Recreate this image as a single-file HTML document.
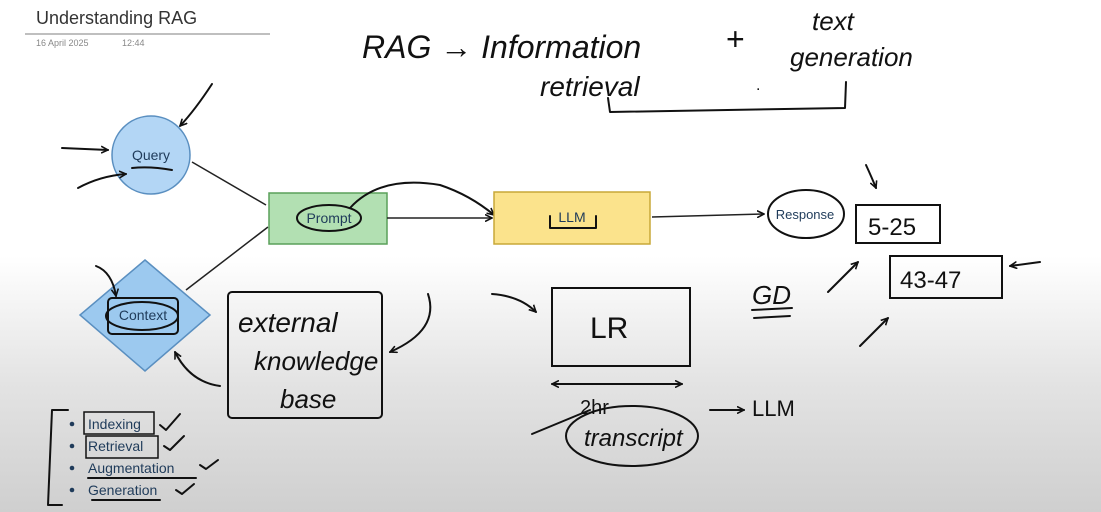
<!DOCTYPE html>
<html><head><meta charset="utf-8"><style>
html,body{margin:0;padding:0;width:1101px;height:512px;overflow:hidden;background:#fff}
svg{display:block}
.h{font-family:"Liberation Sans",sans-serif;fill:#111}
.p{fill:none;stroke:#111;stroke-width:2;stroke-linecap:round;stroke-linejoin:round}
</style></head><body>
<svg width="1101" height="512" viewBox="0 0 1101 512">
<defs>
<linearGradient id="bg" x1="0" y1="0" x2="0" y2="1">
<stop offset="0" stop-color="#fff"/><stop offset="0.5" stop-color="#fff"/><stop offset="0.75" stop-color="#e3e3e3"/><stop offset="1" stop-color="#cfcfcf"/>
</linearGradient>
<marker id="a" markerWidth="8" markerHeight="8" refX="7" refY="4" orient="auto-start-reverse" markerUnits="userSpaceOnUse"><path d="M0,0.5 L7,4 L0,7.5" fill="none" stroke="#111" stroke-width="1.6"/></marker>
</defs>
<rect width="1101" height="512" fill="url(#bg)"/>
<text x="36" y="24" font-family="Liberation Sans" font-size="18" fill="#333">Understanding RAG</text>
<line x1="25" y1="34" x2="270" y2="34" stroke="#aaa" stroke-width="1.5"/>
<text x="36" y="46" font-family="Liberation Sans" font-size="9" fill="#888">16 April 2025</text>
<text x="122" y="46" font-family="Liberation Sans" font-size="9" fill="#888">12:44</text>

<text class="h" x="362" y="58" font-size="32" font-style="italic">RAG → Information</text>
<text class="h" x="540" y="96" font-size="28" font-style="italic">retrieval</text>
<text class="h" x="726" y="50" font-size="32">+</text>
<text class="h" x="812" y="30" font-size="26" font-style="italic">text</text>
<text class="h" x="790" y="66" font-size="26" font-style="italic">generation</text>
<text class="h" x="756" y="90" font-size="16">.</text>
<path class="p" d="M608 98 L610 112 L845 108 L846 82"/>

<circle cx="151" cy="155" r="39" fill="#b3d6f5" stroke="#5a8fc0" stroke-width="1.5"/>
<text x="151" y="160" text-anchor="middle" font-family="Liberation Sans" font-size="14" fill="#1f3b5a">Query</text>
<path class="p" d="M132 168 Q150 166 172 170"/>
<path class="p" d="M62 148 L108 150" marker-end="url(#a)"/>
<path class="p" d="M78 188 Q100 176 126 174" marker-end="url(#a)"/>
<path class="p" d="M212 84 Q195 110 180 126" marker-end="url(#a)"/>
<line x1="192" y1="162" x2="266" y2="205" stroke="#222" stroke-width="1.5"/>

<polygon points="145,260 210,315 145,371 80,315" fill="#9cc9ef" stroke="#5a8fc0" stroke-width="1.5"/>
<rect x="108" y="298" width="70" height="36" fill="none" stroke="#111" stroke-width="2" rx="4"/>
<ellipse cx="142" cy="316" rx="36" ry="14" fill="none" stroke="#111" stroke-width="2"/>
<text x="143" y="320" text-anchor="middle" font-family="Liberation Sans" font-size="14" fill="#1f3b5a">Context</text>
<path class="p" d="M96 266 Q112 272 116 296" marker-end="url(#a)"/>
<line x1="186" y1="290" x2="268" y2="227" stroke="#222" stroke-width="1.5"/>

<rect x="269" y="193" width="118" height="51" fill="#b2e0b2" stroke="#5aa05a" stroke-width="1.5"/>
<ellipse cx="329" cy="218" rx="32" ry="13" fill="none" stroke="#111" stroke-width="2"/>
<text x="329" y="223" text-anchor="middle" font-family="Liberation Sans" font-size="14" fill="#1f3b5a">Prompt</text>
<path class="p" d="M350 208 Q380 175 440 185 Q470 195 494 215" marker-end="url(#a)"/>
<line x1="387" y1="218" x2="492" y2="218" stroke="#222" stroke-width="1.5" marker-end="url(#a)"/>

<rect x="494" y="192" width="156" height="52" fill="#fbe38c" stroke="#c8a838" stroke-width="1.5"/>
<text x="572" y="222" text-anchor="middle" font-family="Liberation Sans" font-size="14" fill="#1f3b5a">LLM</text>
<path class="p" d="M550 216 L550 228 L596 228 L596 216"/>
<line x1="652" y1="217" x2="764" y2="214" stroke="#222" stroke-width="1.5" marker-end="url(#a)"/>

<ellipse cx="806" cy="214" rx="38" ry="24" fill="none" stroke="#111" stroke-width="2"/>
<text x="805" y="219" text-anchor="middle" font-family="Liberation Sans" font-size="13" fill="#1f3b5a">Response</text>
<rect x="856" y="205" width="84" height="38" fill="none" stroke="#111" stroke-width="2"/>
<text class="h" x="868" y="235" font-size="24">5-25</text>
<path class="p" d="M866 165 Q872 178 876 188" marker-end="url(#a)"/>
<rect x="890" y="256" width="112" height="42" fill="none" stroke="#111" stroke-width="2"/>
<text class="h" x="900" y="288" font-size="24">43-47</text>
<path class="p" d="M1040 262 L1010 266" marker-end="url(#a)"/>
<path class="p" d="M828 292 L858 262" marker-end="url(#a)"/>
<path class="p" d="M860 346 L888 318" marker-end="url(#a)"/>
<text class="h" x="752" y="304" font-size="26" font-style="italic">GD</text>
<path class="p" d="M752 310 L792 308 M754 318 L790 316"/>

<rect x="228" y="292" width="154" height="126" fill="none" stroke="#111" stroke-width="2" rx="4"/>
<text class="h" x="238" y="332" font-size="28" font-style="italic">external</text>
<text class="h" x="254" y="370" font-size="26" font-style="italic">knowledge</text>
<text class="h" x="280" y="408" font-size="26" font-style="italic">base</text>
<path class="p" d="M428 294 Q440 330 390 352" marker-end="url(#a)"/>
<path class="p" d="M220 386 Q190 382 175 352" marker-end="url(#a)"/>

<path class="p" d="M492 294 Q520 296 536 312" marker-end="url(#a)"/>
<rect x="552" y="288" width="138" height="78" fill="none" stroke="#111" stroke-width="2"/>
<text class="h" x="590" y="338" font-size="30">LR</text>
<path class="p" d="M552 384 L682 384" marker-start="url(#a)" marker-end="url(#a)"/>
<text class="h" x="580" y="414" font-size="20">2hr</text>
<ellipse cx="632" cy="436" rx="66" ry="30" fill="none" stroke="#111" stroke-width="2"/>
<text class="h" x="584" y="446" font-size="24" font-style="italic">transcript</text>
<path class="p" d="M532 434 L590 410"/>
<path class="p" d="M710 410 L744 410" marker-end="url(#a)"/>
<text class="h" x="752" y="416" font-size="22">LLM</text>

<path class="p" d="M68 410 L52 410 L48 505 L62 505"/>
<g font-family="Liberation Sans" font-size="14" fill="#1f3b5a">
<circle cx="72" cy="424" r="2.3"/><text x="88" y="429">Indexing</text>
<circle cx="72" cy="446" r="2.3"/><text x="88" y="451">Retrieval</text>
<circle cx="72" cy="468" r="2.3"/><text x="88" y="473">Augmentation</text>
<circle cx="72" cy="490" r="2.3"/><text x="88" y="495">Generation</text>
</g>
<rect x="84" y="412" width="70" height="22" fill="none" stroke="#111" stroke-width="1.5"/>
<rect x="86" y="436" width="72" height="22" fill="none" stroke="#111" stroke-width="1.5"/>
<path class="p" d="M88 478 L196 478 M92 500 L160 500"/>
<path class="p" d="M160 425 L166 430 L180 414 M164 446 L170 450 L184 436 M200 465 L206 469 L218 460 M176 490 L182 494 L194 484"/>
</svg>
</body></html>
